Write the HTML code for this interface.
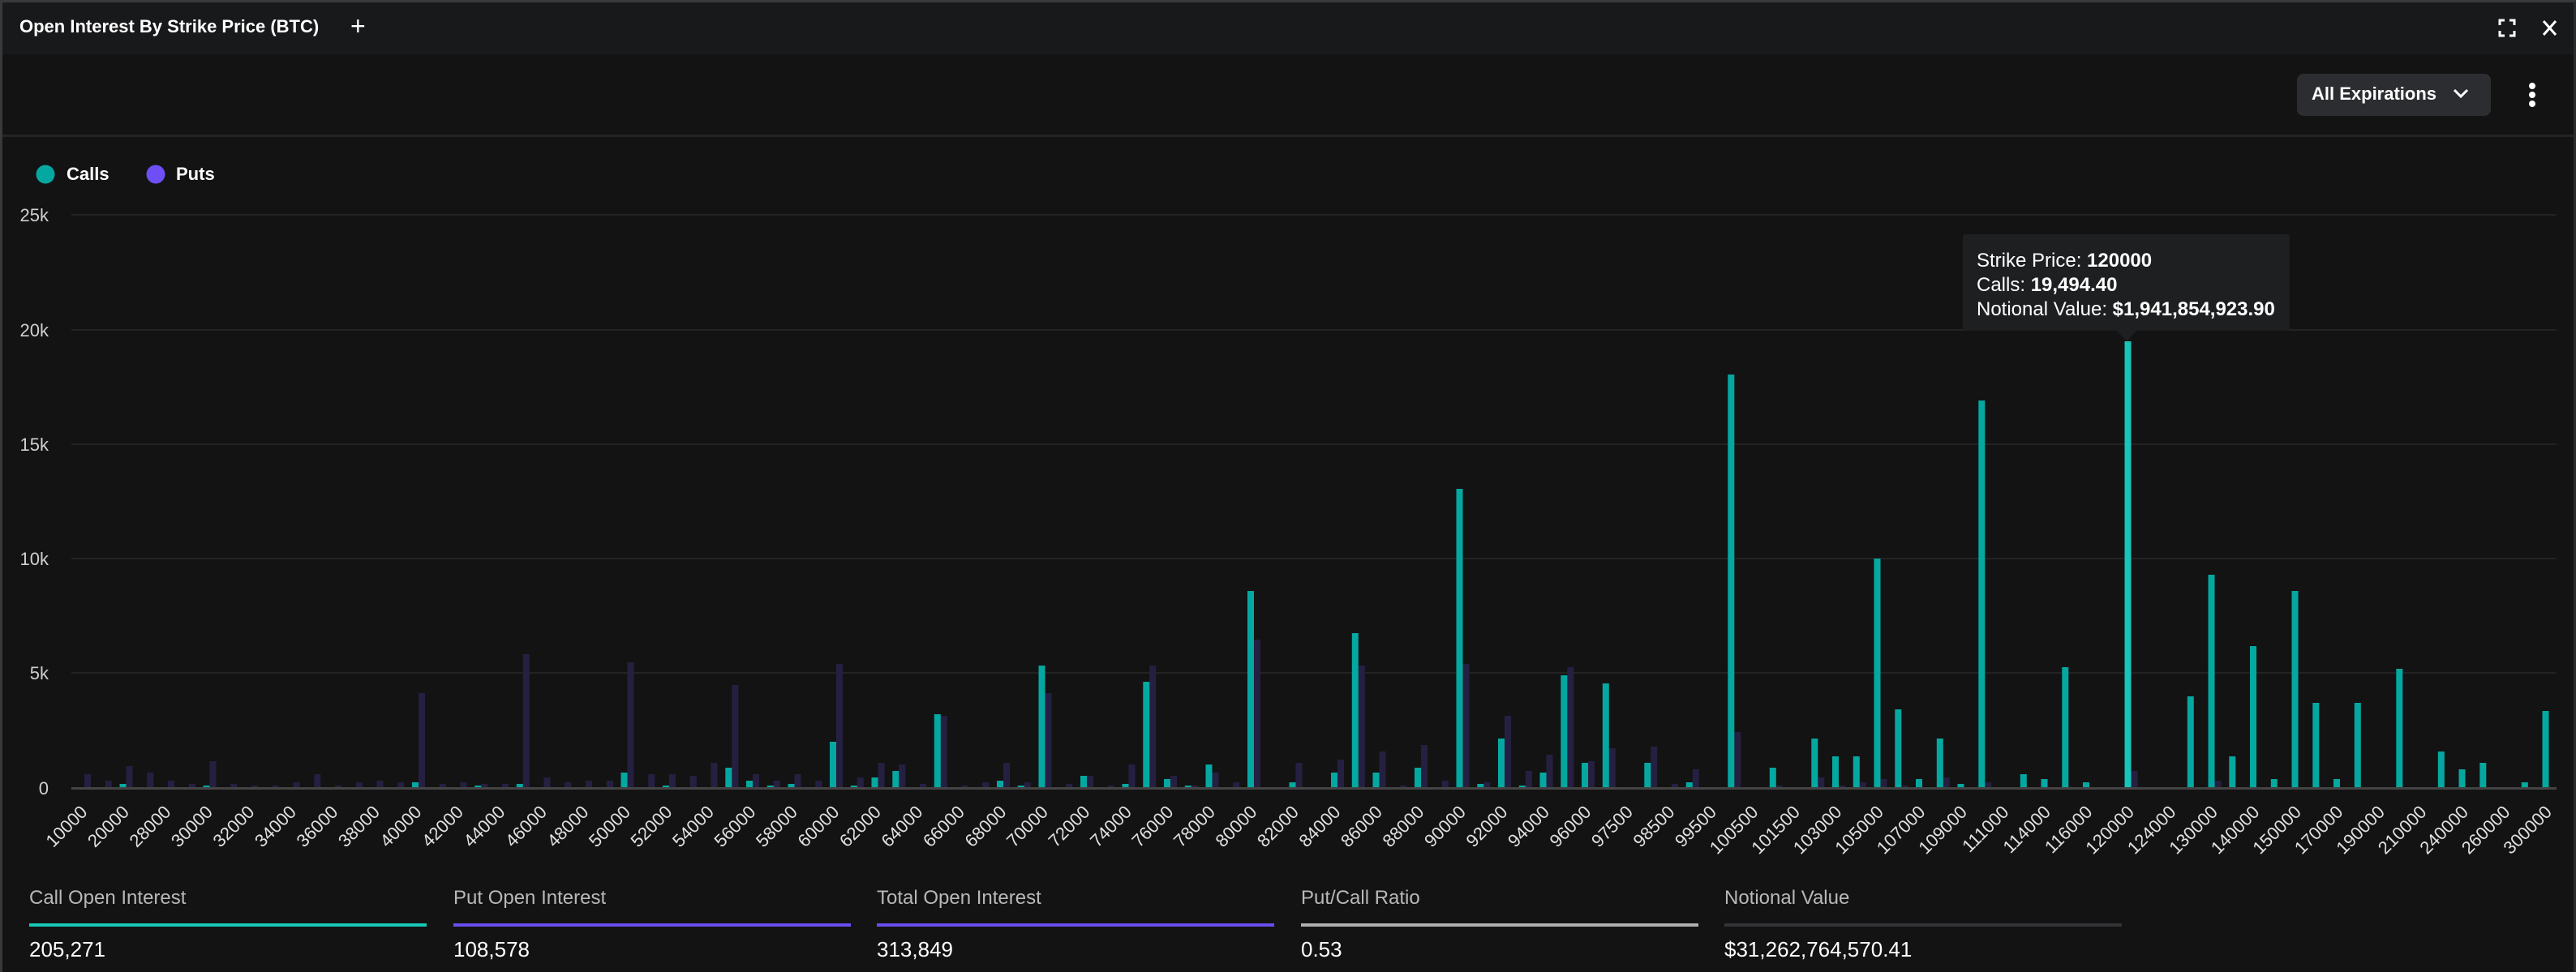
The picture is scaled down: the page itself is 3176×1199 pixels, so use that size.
<!DOCTYPE html>
<html><head><meta charset="utf-8"><style>
html,body{margin:0;padding:0;background:#131313;}
body{width:3176px;height:1199px;position:relative;overflow:hidden;font-family:"Liberation Sans",sans-serif;color:#fff;}
.frame{position:absolute;left:0;top:0;width:3170px;height:1196px;border-left:3px solid #38393c;border-top:3px solid #38393c;border-right:3px solid #2a2b2e;}
.hdr{position:absolute;left:3px;top:3px;width:3170px;height:64px;background:#18191b;}
.t{position:absolute;white-space:nowrap;}
.stat{position:absolute;top:1092px;width:490px;}
.stat .l{font-size:24px;color:#b8b8b8;line-height:32px;}
.stat .bar{height:4px;margin-top:15px;}
.stat .v{font-size:26px;color:#fff;margin-top:12px;line-height:32px;}
</style></head><body>
<div class="frame"></div>
<div class="hdr"></div>
<div class="t" style="left:24px;top:20px;font-size:22px;font-weight:bold;">Open Interest By Strike Price (BTC)</div>
<div class="t" style="left:432px;top:14px;font-size:32px;font-weight:300;">+</div>
<svg style="position:absolute;left:0;top:0" width="3176" height="1199">
  <!-- header icons -->
  <g stroke="#fff" stroke-width="3" fill="none">
    <path d="M3082 31v-6h6M3094 25h6v6M3100 38v6h-6M3088 44h-6v-6"/>
    <path d="M3136 26l15 17M3151 26l-15 17"/>
  </g>
  <rect x="2832" y="91" width="239" height="52" rx="8" fill="#2c2d30"/>
  <path d="M3026 111l8 8 8-8" stroke="#fff" stroke-width="3" fill="none"/>
  <circle cx="3122" cy="106" r="4" fill="#fff"/><circle cx="3122" cy="117" r="4" fill="#fff"/><circle cx="3122" cy="128" r="4" fill="#fff"/>
  <rect x="3" y="166" width="3170" height="3" fill="#232325"/>
  <!-- legend -->
  <circle cx="56" cy="215" r="11.5" fill="#05a8a0"/>
  <circle cx="192" cy="215" r="11.5" fill="#6e4ff6"/>
  <!-- grid -->
  <g fill="#232323">
    <rect x="88" y="264" width="3064" height="2"/>
    <rect x="88" y="406" width="3064" height="2"/>
    <rect x="88" y="547" width="3064" height="2"/>
    <rect x="88" y="688" width="3064" height="2"/>
    <rect x="88" y="829" width="3064" height="2"/>
  </g>
  <g font-family="Liberation Sans, sans-serif" font-size="22" fill="#d0d0d0" text-anchor="end">
    <text x="60" y="273">25k</text>
    <text x="60" y="415">20k</text>
    <text x="60" y="556">15k</text>
    <text x="60" y="697">10k</text>
    <text x="60" y="838">5k</text>
    <text x="60" y="980">0</text>
  </g>
  <g id="bars"></g>
  <rect x="88" y="971" width="3064" height="3" fill="#444"/>
  <g id="xl" font-family="Liberation Sans, sans-serif" font-size="22" fill="#e0e0e0" text-anchor="end">
<text>10000</text><text>20000</text><text>28000</text><text>30000</text><text>32000</text><text>34000</text><text>36000</text><text>38000</text><text>40000</text><text>42000</text><text>44000</text><text>46000</text><text>48000</text><text>50000</text><text>52000</text><text>54000</text><text>56000</text><text>58000</text><text>60000</text><text>62000</text><text>64000</text><text>66000</text><text>68000</text><text>70000</text><text>72000</text><text>74000</text><text>76000</text><text>78000</text><text>80000</text><text>82000</text><text>84000</text><text>86000</text><text>88000</text><text>90000</text><text>92000</text><text>94000</text><text>96000</text><text>97500</text><text>98500</text><text>99500</text><text>100500</text><text>101500</text><text>103000</text><text>105000</text><text>107000</text><text>109000</text><text>111000</text><text>114000</text><text>116000</text><text>120000</text><text>124000</text><text>130000</text><text>140000</text><text>150000</text><text>170000</text><text>190000</text><text>210000</text><text>240000</text><text>260000</text><text>300000</text>
  </g>
  <!-- tooltip -->
  <rect x="2420" y="289" width="403" height="119" rx="3" fill="#1e1f21"/>
  <path d="M2610 408h24l-12 13z" fill="#1e1f21"/>
  <g font-family="Liberation Sans, sans-serif" font-size="24" fill="#fff">
    <text x="2437" y="329">Strike Price: <tspan font-weight="bold">120000</tspan></text>
    <text x="2437" y="359">Calls: <tspan font-weight="bold">19,494.40</tspan></text>
    <text x="2437" y="389">Notional Value: <tspan font-weight="bold">$1,941,854,923.90</tspan></text>
  </g>
</svg>
<div class="t" style="left:2850px;top:103px;font-size:22px;font-weight:bold;">All Expirations</div>
<div class="t" style="left:82px;top:202px;font-size:22px;font-weight:bold;">Calls</div>
<div class="t" style="left:217px;top:202px;font-size:22px;font-weight:bold;">Puts</div>

<div class="stat" style="left:36px"><div class="l">Call Open Interest</div><div class="bar" style="background:#17c9b8"></div><div class="v">205,271</div></div>
<div class="stat" style="left:559px"><div class="l">Put Open Interest</div><div class="bar" style="background:#6b4ef0"></div><div class="v">108,578</div></div>
<div class="stat" style="left:1081px"><div class="l">Total Open Interest</div><div class="bar" style="background:#6b4ef0"></div><div class="v">313,849</div></div>
<div class="stat" style="left:1604px"><div class="l">Put/Call Ratio</div><div class="bar" style="background:#b0b0b0"></div><div class="v">0.53</div></div>
<div class="stat" style="left:2126px"><div class="l">Notional Value</div><div class="bar" style="background:#333436"></div><div class="v">$31,262,764,570.41</div></div>

<script>
var B=25.75;
var calls={2:5,6:3,16:7,19:3,21:5,26:19,28:3,31:25,32:9,33:3,34:5,36:57,37:3,38:13,39:21,41:91,44:9,45:3,46:151,48:15,50:5,51:131,52:11,53:3,54:29,56:243,58:7,60:19,61:191,62:19,64:25,66:369,67:5,68:61,69:3,70:19,71:139,72:31,73:129,75:31,77:7,79:510,81:25,83:61,84:39,85:39,86:283,87:97,88:11,89:61,90:5,91:478,93:17,94:11,95:149,96:7,98:551,101:113,102:263,103:39,104:175,105:11,106:243,107:105,108:11,109:105,111:147,113:45,114:23,115:31,117:7,118:95};
var puts={0:17,1:9,2:27,3:19,4:9,5:5,6:33,7:5,8:3,9:3,10:7,11:17,12:3,13:7,14:9,15:7,16:117,17:5,18:7,19:5,20:5,21:165,22:13,23:7,24:9,25:9,26:155,27:17,28:17,29:15,30:31,31:127,32:17,33:9,34:17,35:9,36:153,37:13,38:31,39:29,40:5,41:89,42:3,43:7,44:31,45:7,46:117,47:5,48:15,49:3,50:29,51:151,52:15,53:3,54:19,55:7,56:183,58:31,60:35,61:151,62:45,63:3,64:53,65:9,66:153,67:7,68:89,69:21,70:41,71:149,72:33,73:49,75:51,76:5,77:23,79:69,81:3,83:13,84:3,85:7,86:11,87:3,89:13,91:7,98:21,102:9};
var s='';
for(var i in puts){var x=104+B*i,h=puts[i];s+='<rect x="'+x.toFixed(1)+'" y="'+(972-h)+'" width="8" height="'+h+'" fill="#252041"/>';}
for(var i in calls){var x=96+B*i,h=calls[i];s+='<rect x="'+x.toFixed(1)+'" y="'+(972-h)+'" width="8" height="'+h+'" fill="'+(i==98?'#17c4ba':'#05a8a0')+'"/>';}
document.getElementById('bars').innerHTML=s;
var t=document.getElementById('xl').getElementsByTagName('text');
for(var k=0;k<t.length;k++){var cx=88+B*(2*k+0.5)+8;t[k].setAttribute('transform','translate('+cx.toFixed(1)+',1003) rotate(-45)');}
</script>
</body></html>
